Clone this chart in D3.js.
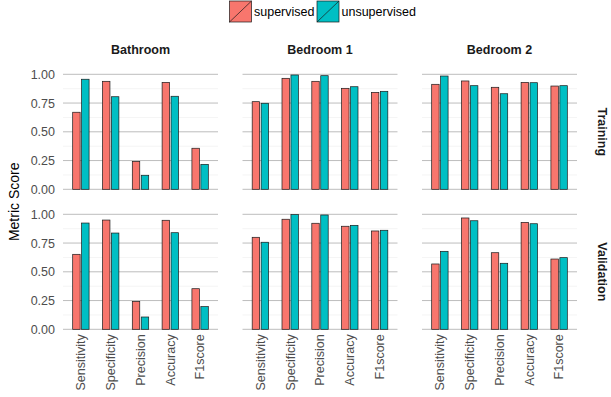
<!DOCTYPE html>
<html>
<head>
<meta charset="utf-8">
<script src="https://cdn.jsdelivr.net/npm/d3@7"></script>
<style>
  body { margin: 0; background: #fff; }
  svg { font-family: "Liberation Sans", Arial, sans-serif; }
</style>
</head>
<body>
<svg id="chart" width="611" height="397"></svg>
<script>
const rooms = ["Bathroom", "Bedroom 1", "Bedroom 2"];
const sets = ["Training", "Validation"];
const metrics = ["Sensitivity", "Specificity", "Precision", "Accuracy", "F1score"];
const methods = ["supervised", "unsupervised"];
const yTicks = [0, 0.25, 0.5, 0.75, 1];
const yMinor = [0.125, 0.375, 0.625, 0.875];

// one row per room, values in metrics order
const trainSupervised = [
  [0.670, 0.939, 0.243, 0.930, 0.357],
  [0.762, 0.965, 0.939, 0.878, 0.843],
  [0.913, 0.942, 0.887, 0.930, 0.898]
];
const trainUnsupervised = [
  [0.957, 0.805, 0.122, 0.809, 0.217],
  [0.748, 0.994, 0.988, 0.892, 0.852],
  [0.985, 0.901, 0.831, 0.927, 0.901]
];
const validSupervised = [
  [0.652, 0.950, 0.243, 0.948, 0.353],
  [0.800, 0.957, 0.922, 0.896, 0.855],
  [0.568, 0.968, 0.666, 0.930, 0.611]
];
const validUnsupervised = [
  [0.924, 0.837, 0.107, 0.840, 0.197],
  [0.757, 0.997, 0.994, 0.904, 0.861],
  [0.678, 0.944, 0.574, 0.918, 0.623]
];

const colors = {supervised: "#F8766D", unsupervised: "#00BFC4"};
const values = {
  Training: {supervised: trainSupervised, unsupervised: trainUnsupervised},
  Validation: {supervised: validSupervised, unsupervised: validUnsupervised}
};

const svg = d3.select("#chart");

const col = d3.scaleBand().domain(rooms).range([63, 577]).paddingInner(24.5 / 179.5);
const row = d3.scaleBand().domain(sets).range([74.3, 329.3]).paddingInner(25 / 140);
const pw = col.bandwidth(), ph = row.bandwidth();

const x = d3.scaleBand().domain(metrics).range([0, pw]).paddingInner(0).paddingOuter(0.1);
const u = x.step();
const xm = d3.scaleBand().domain(methods).range([0.2 * u, 0.8 * u]);
const barW = 0.25 * u;
const y = d3.scaleLinear().domain([0, 1]).range([ph, 0]);

sets.forEach(function(s, si) {
  rooms.forEach(function(r, ri) {
    const g = svg.append("g")
        .attr("transform", "translate(" + col(r) + "," + row(s) + ")");

    // grid
    g.selectAll("line.minor").data(yMinor).enter().append("line")
        .attr("x1", 0).attr("x2", pw)
        .attr("y1", d => y(d)).attr("y2", d => y(d))
        .attr("stroke", "#f1f1f1").attr("stroke-width", 0.8);
    g.selectAll("line.major").data(yTicks).enter().append("line")
        .attr("x1", 0).attr("x2", pw)
        .attr("y1", d => y(d)).attr("y2", d => y(d))
        .attr("stroke", "#bdbdbd").attr("stroke-width", 1);

    // bars
    const rows = [];
    metrics.forEach(function(m, mi) {
      methods.forEach(function(meth) {
        rows.push({metric: m, method: meth, value: values[s][meth][ri][mi]});
      });
    });
    g.selectAll("rect.bar").data(rows).enter().append("rect")
        .attr("x", d => x(d.metric) + xm(d.method) + (xm.bandwidth() - barW) / 2)
        .attr("width", barW)
        .attr("y", d => y(d.value))
        .attr("height", d => y(0) - y(d.value))
        .attr("fill", d => colors[d.method])
        .attr("stroke", "#1a1a1a")
        .attr("stroke-width", 0.7);

    // y axis labels on first column
    if (ri === 0) {
      const ya = g.append("g")
          .call(d3.axisLeft(y).tickValues(yTicks).tickFormat(d3.format(".2f")).tickSize(0).tickPadding(8));
      ya.select(".domain").remove();
      ya.selectAll("text").attr("font-size", 12.5).attr("fill", "#4d4d4d")
          .attr("font-family", "Liberation Sans, Arial, sans-serif");
    }

    // x axis labels on last row
    if (si === sets.length - 1) {
      g.selectAll("text.xl").data(metrics).enter().append("text")
          .attr("transform", d => "translate(" + (x(d) + x.bandwidth() / 2) + "," + (ph + 5) + ") rotate(-90)")
          .attr("text-anchor", "end")
          .attr("dy", "0.35em")
          .attr("font-size", 12.5)
          .attr("fill", "#4d4d4d")
          .text(d => d);
    }

    // column strips
    if (si === 0) {
      svg.append("text")
          .attr("x", col(r) + pw / 2).attr("y", 53.5)
          .attr("text-anchor", "middle")
          .attr("font-size", 12.5).attr("font-weight", "bold").attr("fill", "#1a1a1a")
          .text(r);
    }
  });

  // row strips
  svg.append("text")
      .attr("transform", "translate(597.5," + (row(s) + ph / 2) + ") rotate(90)")
      .attr("text-anchor", "middle")
      .attr("font-size", 12.5).attr("font-weight", "bold").attr("fill", "#1a1a1a")
      .text(s);
});

// y title
svg.append("text")
    .attr("transform", "translate(18.5," + (row.range()[0] + row.range()[1]) / 2 + ") rotate(-90)")
    .attr("text-anchor", "middle")
    .attr("font-size", 14).attr("fill", "#000")
    .text("Metric Score");

// legend
const legX = [229.5, 317];
const lg = svg.append("g").selectAll("g").data(methods).enter().append("g")
    .attr("transform", (d, i) => "translate(" + legX[i] + ",1)");
lg.append("rect")
    .attr("width", 22).attr("height", 21)
    .attr("fill", d => colors[d]).attr("stroke", "#1a1a1a").attr("stroke-width", 0.7);
lg.append("line")
    .attr("x1", 0).attr("y1", 21).attr("x2", 22).attr("y2", 0)
    .attr("stroke", "#1a1a1a").attr("stroke-width", 0.7);
lg.append("text")
    .attr("x", 24.5).attr("y", 15)
    .attr("font-size", 12.5).attr("fill", "#000")
    .text(d => d);
</script>
</body>
</html>
